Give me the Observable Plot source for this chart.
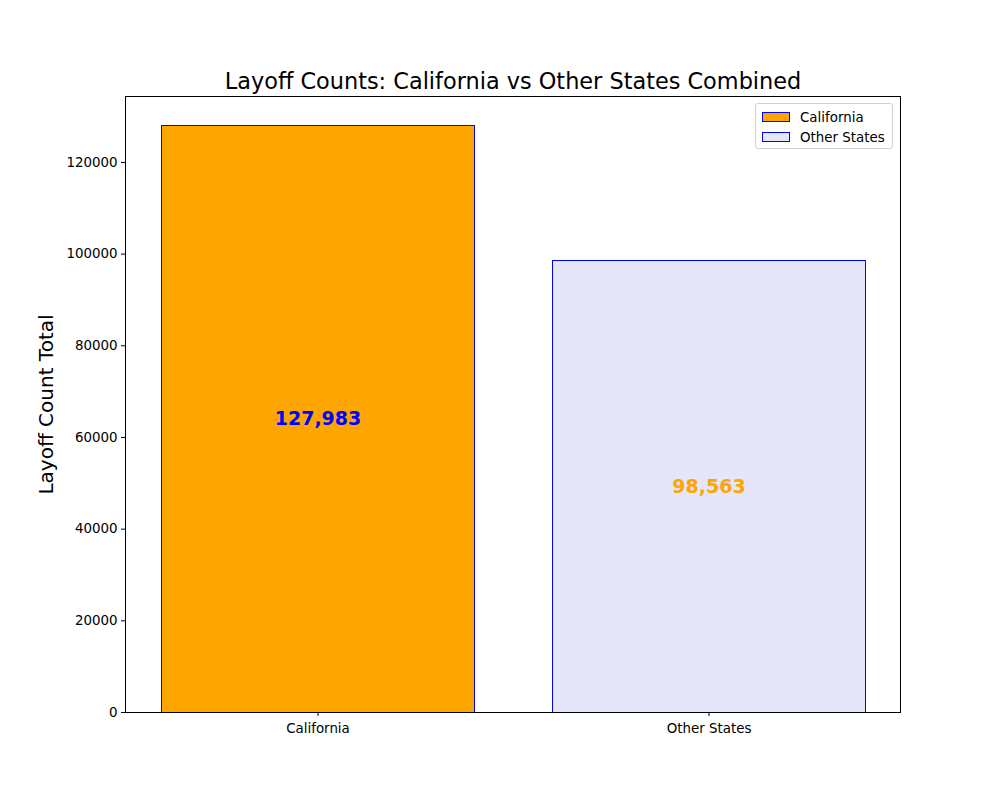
<!DOCTYPE html>
<html>
<head>
<meta charset="utf-8">
<script src="https://cdn.jsdelivr.net/npm/d3@7"></script>
<script src="https://cdn.jsdelivr.net/npm/@observablehq/plot@0.6"></script>
<style>
  body { margin: 0; background: #fff; font-family: "DejaVu Sans", sans-serif; }
  #wrap { position: relative; width: 1000px; height: 800px; }
  #legend { position: absolute; left: 755px; top: 103px; width: 138px; height: 46px;
    border: 1px solid #d0d0d0; border-radius: 3px; background: rgba(255,255,255,0.8);
    font-size: 13.4px; color: #000; box-sizing: border-box; padding: 3px 0 0 6px; }
  .row { display: flex; align-items: center; height: 20px; }
  .sw { width: 28px; height: 10px; border: 1px solid #0000ff; box-sizing: border-box; margin-right: 10px; }
</style>
</head>
<body>
<div id="wrap"></div>
<script>
const categories = ["California", "Other States"];
const values = [127983, 98563];
const fills = ["#FFA500", "#E6E6FA"];
const labelColors = ["#0000FF", "#FFA500"];
const yTicks = [0, 20000, 40000, 60000, 80000, 100000, 120000];
const title = "Layoff Counts: California vs Other States Combined";
const yLabel = "Layoff Count Total";

const data = categories.map((c, i) => ({cat: c, value: values[i], fill: fills[i], lc: labelColors[i],
  label: d3.format(",")(values[i])}));

const chart = Plot.plot({
  width: 1000,
  height: 800,
  marginLeft: 125,
  marginRight: 100,
  marginTop: 96,
  marginBottom: 88,
  style: {fontFamily: "DejaVu Sans, sans-serif", fontSize: "13px", background: "white", color: "black"},
  x: {domain: categories, paddingInner: 0.2, paddingOuter: 0.09, label: null},
  y: {domain: [0, d3.max(values) * 1.05], label: null},
  marks: [
    Plot.barY(data, {x: "cat", y: "value", fill: d => d.fill, stroke: "#0000FF", strokeWidth: 1, shapeRendering: "crispEdges"}),
    Plot.text(data, {x: "cat", y: d => d.value / 2, text: "label", fill: d => d.lc,
      fontWeight: "bold", fontSize: 19}),
    Plot.frame({stroke: "black", strokeWidth: 1}),
    Plot.axisY({ticks: yTicks, tickFormat: d => String(d), tickSize: 4, tickPadding: 4, fontSize: 13.4, label: null}),
    Plot.axisX({tickSize: 4, tickPadding: 7, fontSize: 13.4, label: null}),
    Plot.text([title], {frameAnchor: "top", dy: -15, lineAnchor: "middle", textAnchor: "middle", fontSize: 22.4, fill: "black"}),
    Plot.text([yLabel], {frameAnchor: "left", dx: -79, rotate: -90, lineAnchor: "middle", textAnchor: "middle", fontSize: 20, fill: "black"})
  ]
});
const wrap = document.getElementById("wrap");
wrap.appendChild(chart);
const leg = document.createElement("div");
leg.id = "legend";
leg.innerHTML = categories.map((c, i) =>
  `<div class="row"><div class="sw" style="background:${fills[i]}"></div><span>${c}</span></div>`).join("");
wrap.appendChild(leg);
</script>
</body>
</html>
